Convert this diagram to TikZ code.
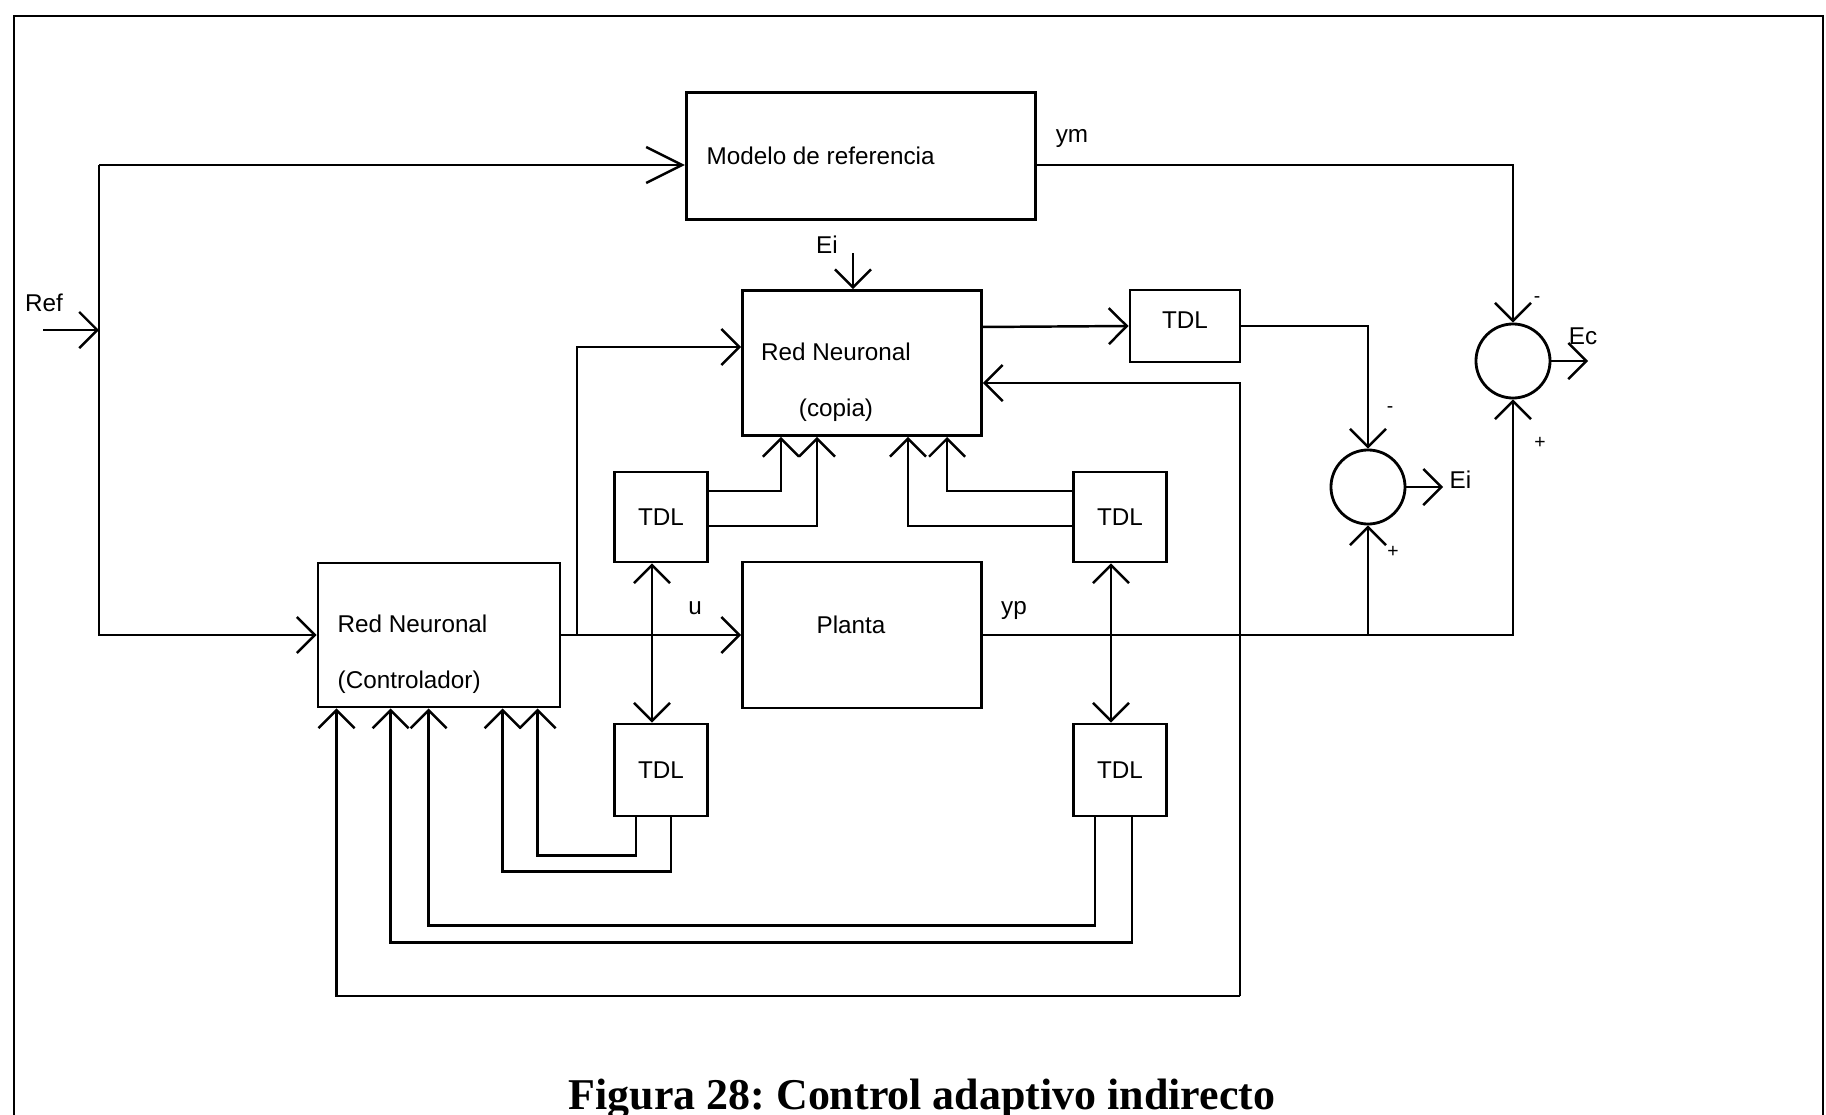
\documentclass[tikz,border=0pt]{standalone}
\usepackage{fontspec}
\setmainfont{Liberation Serif}
\newfontfamily\arialf{Liberation Sans}
\usetikzlibrary{arrows.meta, positioning}
\frenchspacing

\begin{document}
\begin{tikzpicture}[
        x=0.01cm, y=-0.01cm,
        blk/.style={draw, line width=0.8pt, inner sep=0pt},
        tdl/.style={blk, minimum width=0.93cm, minimum height=0.9cm, font=\arialf\fontsize{6.9}{8}\selectfont},
        sum/.style={draw, circle, line width=0.8pt, minimum size=0.74cm, inner sep=0pt},
        txt/.style={font=\arialf\fontsize{6.9}{15.9}\selectfont, inner sep=0pt},
        sgn/.style={font=\arialf\fontsize{5.5}{6}\selectfont, inner sep=0pt},
        flow/.style={line width=0.7pt, -{Straight Barb[length=1.8mm, width=3.6mm]}},
        flowl/.style={line width=0.7pt, -{Straight Barb[length=3.6mm, width=3.6mm]}},
        dflow/.style={line width=0.7pt, {Straight Barb[length=1.8mm, width=3.6mm]}-{Straight Barb[length=1.8mm, width=3.6mm]}}
    ]
        \useasboundingbox (0,0) rectangle (1826,1115);
        % marco
        \draw[line width=0.8pt] (14,1115) -- (14,16) -- (1823,16) -- (1823,1115);

        % bloques
        \node[blk, minimum width=3.49cm, minimum height=1.27cm] (modelo) at (861,156) {};
        \node[blk, minimum width=2.39cm, minimum height=1.45cm] (copia) at (862,363) {};
        \node[blk, minimum width=2.42cm, minimum height=1.44cm] (ctrl) at (439,635) {};
        \node[blk, minimum width=2.39cm, minimum height=1.46cm] (planta) at (862,635) {};
        \node[tdl, minimum width=1.1cm, minimum height=0.72cm, text depth=0.12cm] (tdlo) at (1185,326) {TDL};
        \node[tdl] (tdlul) at (661,517) {TDL};
        \node[tdl] (tdlur) at (1120,517) {TDL};
        \node[tdl, minimum height=0.92cm] (tdlll) at (661,770) {TDL};
        \node[tdl, minimum height=0.92cm] (tdllr) at (1120,770) {TDL};
        \node[sum] (sumi) at (1368,487) {};
        \node[sum] (sumc) at (1513,361) {};

        % textos de los bloques
        \node[txt, anchor=west] (modelotxt) at (706,156) {Modelo de referencia};
        \node[txt, align=center] (copiatxt) at (836,382) {Red Neuronal\\(copia)};
        \node[txt, align=left, anchor=west] (ctrltxt) at (337,654) {Red Neuronal\\(Controlador)};
        \node[txt] (plantatxt) at (851,625) {Planta};

        % etiquetas
        \node[txt] (reflbl) at (44,303) {Ref};
        \node[txt] (ymlbl) at (1072,138) {ym};
        \node[txt] (yplbl) at (1014,610) {yp};
        \node[txt] (ulbl) at (695,608) {u};
        \node[txt] (eilbl) at (827,245) {Ei};
        \node[txt, anchor=west] (eiolbl) at (1449,480) {Ei};
        \node[txt] (eclbl) at (1583,336) {Ec};
        \node[sgn] (sgnc1) at (1537,300) {-};
        \node[sgn] (sgnc2) at (1540,443) {+};
        \node[sgn] (sgni1) at (1390,410) {-};
        \node[sgn] (sgni2) at (1393,552) {+};

        % puntos libres
        \coordinate (refin) at (43,330);
        \coordinate (fork) at (99,330);
        \coordinate (inrow) at (99,165);
        \coordinate (ubranch) at (577,635);
        \coordinate (eiin) at (853,253);
        \coordinate (eiout) at (1443,487);
        \coordinate (ecout) at (1588,361);
        \coordinate (fbr) at (1240,996);

        % conexiones
        \draw[flow] (refin) -- (fork);
        \draw[line width=0.7pt] (fork) -- (inrow);
        \draw[flowl] (inrow) -- (inrow -| modelo.west);
        \draw[flow] (fork) |- (ctrl.west);
        \draw[flow] (ctrl.east) -- (planta.west);
        \draw[flow] (ubranch) |- ([yshift=0.16cm]copia.west);
        \draw[flow] (modelo.east |- inrow) -| (sumc.north);
        \draw[flow] (eiin) -- (eiin |- copia.north);
        \draw[flow] ([yshift=0.36cm]copia.east) -- (tdlo.west);
        \draw[flow] (tdlo.east) -| (sumi.north);
        \draw[flow] (sumi.east) -- (eiout);
        \draw[flow] (sumc.east) -- (ecout);
        \draw[flow] (planta.east) -| (sumc.south);
        \draw[flow] (planta.east -| sumi.south) -- (sumi.south);

        \draw[flow] ([yshift=0.26cm]tdlul.east) -| ([xshift=-0.81cm]copia.south);
        \draw[flow] ([yshift=-0.09cm]tdlul.east) -| ([xshift=-0.45cm]copia.south);
        \draw[flow] ([yshift=0.26cm]tdlur.west) -| ([xshift=0.85cm]copia.south);
        \draw[flow] ([yshift=-0.09cm]tdlur.west) -| ([xshift=0.46cm]copia.south);

        \draw[dflow] ([xshift=-0.09cm]tdlul.south) -- ([xshift=-0.09cm]tdlll.north);
        \draw[dflow] ([xshift=-0.09cm]tdlur.south) -- ([xshift=-0.09cm]tdllr.north);

        \draw[flow] ([xshift=-0.25cm]tdlll.south) -- ++(0,38) -| ([xshift=2.21cm]ctrl.south west);
        \draw[flow] ([xshift=0.1cm]tdlll.south) -- ++(0,54) -| ([xshift=1.86cm]ctrl.south west);
        \draw[flow] ([xshift=-0.25cm]tdllr.south) -- ++(0,108) -| ([xshift=1.12cm]ctrl.south west);
        \draw[flow] ([xshift=0.12cm]tdllr.south) -- ++(0,125) -| ([xshift=0.74cm]ctrl.south west);

        \draw[flow] (fbr) |- ([yshift=-0.2cm]copia.east);
        \draw[flow] (fbr) -| ([xshift=0.2cm]ctrl.south west);

        % pie
        \node[font=\bfseries\fontsize{12.5}{14}\selectfont, anchor=base, inner sep=0pt] (caption) at (922,1109) {Figura 28: Control adaptivo indirecto};
    \end{tikzpicture}
\end{document}
